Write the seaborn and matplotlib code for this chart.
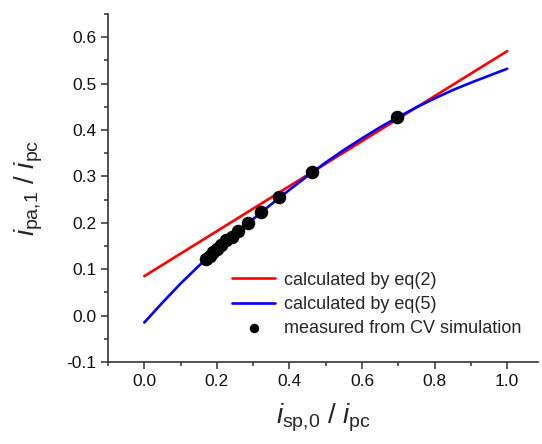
import matplotlib
matplotlib.use("Agg")
import matplotlib.pyplot as plt
import seaborn as sns
import pandas as pd
from matplotlib.ticker import MultipleLocator

# values
x_eq2 = [0.0, 1.0]
y_eq2 = [0.085, 0.570]

x_eq5 = [0.0, 0.05, 0.1, 0.15, 0.2, 0.25, 0.3, 0.35, 0.4, 0.45, 0.5,
         0.55, 0.6, 0.65, 0.7, 0.75, 0.8, 0.85, 0.9, 0.95, 1.0]
y_eq5 = [-0.015, 0.028, 0.069, 0.107, 0.143, 0.176, 0.208, 0.240, 0.271, 0.301, 0.330,
         0.357, 0.382, 0.406, 0.428, 0.449, 0.468, 0.486, 0.502, 0.517, 0.532]

x_cv = [0.171, 0.180, 0.190, 0.200, 0.212, 0.226, 0.241, 0.259, 0.286, 0.321, 0.372, 0.462, 0.697]
y_cv = [0.121, 0.128, 0.136, 0.144, 0.152, 0.162, 0.170, 0.183, 0.199, 0.223, 0.255, 0.309, 0.428]

sns.set_style("ticks")
plt.rcParams['font.family'] = ['Liberation Sans', 'DejaVu Sans']
plt.rcParams['mathtext.fontset'] = 'custom'
plt.rcParams['mathtext.rm'] = 'Liberation Sans'
plt.rcParams['mathtext.it'] = 'Liberation Sans:italic'

fig = plt.figure(figsize=(5.42, 4.44), dpi=100)
ax = fig.add_axes([0.1993, 0.1847, 0.7934, 0.7838])

eq2 = pd.DataFrame({'x': x_eq2, 'y': y_eq2})
eq5 = pd.DataFrame({'x': x_eq5, 'y': y_eq5})
cv = pd.DataFrame({'x': x_cv, 'y': y_cv})

sns.lineplot(data=eq2, x='x', y='y', color='#ff0000', linewidth=1.9,
             label='calculated by eq(2)', ax=ax)
sns.lineplot(data=eq5, x='x', y='y', color='#0000ff', linewidth=1.9,
             label='calculated by eq(5)', ax=ax)
sns.scatterplot(data=cv, x='x', y='y', color='black', s=95, edgecolor='black',
                linewidth=0, label='measured from CV simulation', ax=ax, zorder=5)

ax.set_xlim(-0.1, 1.085)
ax.set_ylim(-0.1, 0.65)
ax.xaxis.set_minor_locator(MultipleLocator(0.1))
ax.yaxis.set_minor_locator(MultipleLocator(0.05))
ax.set_xticks([0.0, 0.2, 0.4, 0.6, 0.8, 1.0])
ax.set_yticks([-0.1, 0.0, 0.1, 0.2, 0.3, 0.4, 0.5, 0.6])
ax.set_yticklabels(['-0.1', '0.0', '0.1', '0.2', '0.3', '0.4', '0.5', '0.6'])

for s in ['top', 'right']:
    ax.spines[s].set_visible(False)
for s in ['left', 'bottom']:
    ax.spines[s].set_color('#333333')
    ax.spines[s].set_linewidth(1.2)
ax.tick_params(which='major', direction='out', length=5, width=1.1,
               color='#333333', labelsize=12.5, labelcolor='#111111')
ax.tick_params(which='minor', direction='out', length=3, width=1.1, color='#333333')

ax.set_xlabel(r'$\mathit{i}_{\mathrm{sp{,}0}}$ / $\mathit{i}_{\mathrm{pc}}$', fontsize=20, labelpad=9)
ax.set_ylabel(r'$\mathit{i}_{\mathrm{pa{,}1}}$ / $\mathit{i}_{\mathrm{pc}}$', fontsize=20, labelpad=15)

ax.legend(loc='lower right', bbox_to_anchor=(1.0, 0.025), frameon=False,
          fontsize=13, handlelength=2.4, handletextpad=0.5, labelspacing=0.4,
          markerscale=0.7)

fig.savefig("out.png", dpi=100)
